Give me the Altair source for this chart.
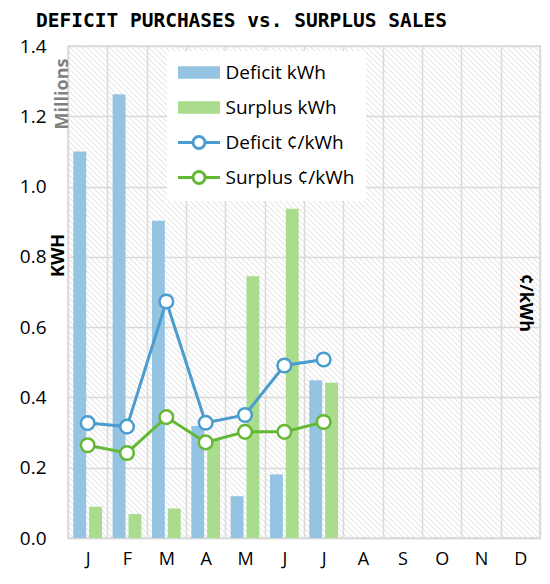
import altair as alt
import pandas as pd

month_names = ["Jan", "Feb", "Mar", "Apr", "May", "Jun", "Jul", "Aug", "Sep", "Oct", "Nov", "Dec"]
data_months = month_names[:7]

series_names = ["Deficit kWh", "Surplus kWh", "Deficit ¢/kWh", "Surplus ¢/kWh"]

deficit_kwh = [1.100, 1.263, 0.903, 0.319, 0.119, 0.181, 0.449]
surplus_kwh = [0.089, 0.068, 0.084, 0.281, 0.745, 0.937, 0.442]
deficit_cents = [0.327, 0.317, 0.673, 0.328, 0.350, 0.491, 0.508]
surplus_cents = [0.264, 0.242, 0.344, 0.272, 0.302, 0.302, 0.330]

rows = []
for i, m in enumerate(data_months):
    rows.append({"month": m, "series": series_names[0], "value": deficit_kwh[i]})
    rows.append({"month": m, "series": series_names[1], "value": surplus_kwh[i]})
    rows.append({"month": m, "series": series_names[2], "value": deficit_cents[i]})
    rows.append({"month": m, "series": series_names[3], "value": surplus_cents[i]})
df = pd.DataFrame(rows)

W, H = 472, 492
FONT = "Open Sans"
GRID = "#d9d9d9"

fill_range = ["#94c4e2", "#a9dc8c", "white", "white"]
stroke_range = ["transparent", "transparent", "#4b9ccf", "#64b834"]
rect_path = "M-2.333,-0.7H2.333V0.7H-2.333Z"
lc_path = ("M-2.333,0H-0.667M0.667,0H2.333M0.667,0"
           "A0.667,0.667,0,1,1,-0.667,0A0.667,0.667,0,1,1,0.667,0")
shape_range = [rect_path, rect_path, lc_path, lc_path]

legend = alt.Legend(
    title=None, orient="none", legendX=99, legendY=5,
    fillColor="white", padding=11, symbolSize=324, symbolOffset=10.5,
    symbolStrokeWidth=3, labelOffset=16, rowPadding=10,
    labelFontSize=19, labelFont=FONT, labelColor="black",
)

x_enc = alt.X(
    "month:N",
    scale=alt.Scale(domain=month_names, paddingInner=0, paddingOuter=0),
    axis=alt.Axis(
        tickBand="extent", grid=True, gridColor=GRID, gridWidth=1.5,
        ticks=False, domain=True, domainColor=GRID, domainWidth=1.5,
        labelPadding=12, labelFontSize=18, labelFont=FONT, labelColor="black",
        labelAngle=0, labelExpr="substring(datum.label, 0, 1)",
    ),
    title=None,
)
y_enc = alt.Y(
    "value:Q",
    scale=alt.Scale(domain=[0, 1.4], nice=False),
    axis=alt.Axis(
        values=[0, 0.2, 0.4, 0.6, 0.8, 1.0, 1.2, 1.4], format=".1f",
        grid=True, gridColor=GRID, gridWidth=1.5, ticks=False, domain=False,
        labelPadding=22, labelFontSize=19, labelFont=FONT, labelColor="black",
        title="KWH", titleAngle=270, titleX=-5, titleY=209, titleAlign="center",
        titleBaseline="alphabetic", titleFontSize=18, titleFont=FONT,
        titleFontWeight="bold", titleColor="black",
    ),
)
fill_enc = alt.Fill("series:N", scale=alt.Scale(domain=series_names, range=fill_range), legend=legend)
stroke_enc = alt.Stroke("series:N", scale=alt.Scale(domain=series_names, range=stroke_range), legend=legend)
shape_enc = alt.Shape("series:N", scale=alt.Scale(domain=series_names, range=shape_range), legend=legend)

hatch = alt.Chart(alt.sequence(-H, W, 5.6, as_="k")).transform_calculate(
    kx2=f"datum.k + {H}", ky1="0", ky2=f"{H}"
).mark_rule(clip=True, stroke="#dcdcdc", strokeWidth=1).encode(
    x=alt.X("k:Q", scale=None, axis=None),
    x2="kx2:Q",
    y=alt.Y("ky1:Q", scale=None, axis=None),
    y2="ky2:Q",
)

base = alt.Chart(df)

bars = base.transform_filter(
    alt.FieldOneOfPredicate(field="series", oneOf=series_names[:2])
).mark_bar().encode(
    x=x_enc,
    xOffset=alt.XOffset("series:N", scale=alt.Scale(domain=series_names[:2], paddingInner=0.1875, paddingOuter=0.336)),
    y=y_enc,
    fill=fill_enc,
)

cents = base.transform_filter(
    alt.FieldOneOfPredicate(field="series", oneOf=series_names[2:])
)
lines = cents.mark_line(strokeWidth=3).encode(x=x_enc, y=y_enc, stroke=stroke_enc)
points = cents.mark_point(size=185, strokeWidth=2.5, opacity=1).encode(
    x=x_enc, y=y_enc, stroke=stroke_enc, fill=fill_enc
)
dummy = base.transform_filter("false").mark_point(opacity=1).encode(
    shape=shape_enc, fill=fill_enc, stroke=stroke_enc
)

millions = alt.Chart(pd.DataFrame({"t": ["Millions"]})).mark_text(
    angle=270, fontSize=18, fontWeight="bold", color="#808080", font=FONT,
    align="center", baseline="alphabetic",
).encode(text="t:N", x=alt.value(0), y=alt.value(48))

ckwh = alt.Chart(pd.DataFrame({"t": ["¢/kWh"]})).mark_text(
    angle=90, fontSize=18, fontWeight="bold", color="black", font=FONT,
    align="center", baseline="alphabetic",
).encode(text="t:N", x=alt.value(W - 20), y=alt.value(257))

chart = alt.layer(hatch, bars, lines, points, dummy, millions, ckwh).properties(
    width=W, height=H,
    title=alt.TitleParams(
        "DEFICIT PURCHASES vs. SURPLUS SALES", font="DejaVu Sans Mono",
        fontSize=19.5, fontWeight="bold", color="black", anchor="start",
        frame="group", dx=-32, offset=6,
    ),
    padding={"left": 60, "top": 38, "right": 2, "bottom": 34},
    autosize=alt.AutoSizeParams(type="none"),
).configure_view(stroke=GRID, strokeWidth=1.5).configure_legend(symbolFillColor="white")

chart.save("out.html", embed_options={"renderer": "svg", "actions": False})
